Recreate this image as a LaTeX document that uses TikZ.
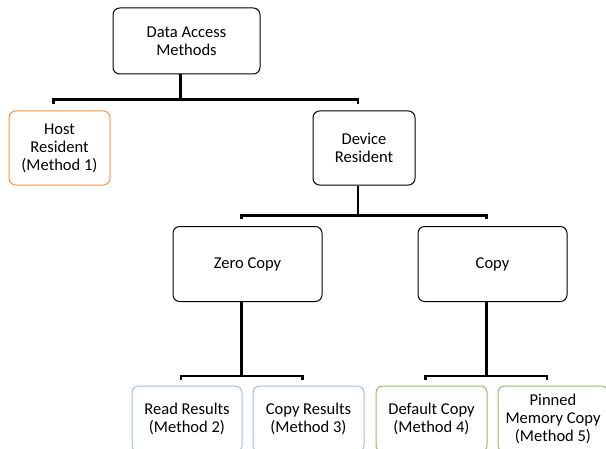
\documentclass[tikz,border=0pt]{standalone}
\usepackage{fontspec}
\setmainfont{Carlito}
\usepackage{tikz}
\definecolor{hostorange}{HTML}{F79646}
\definecolor{zeroblue}{HTML}{9DC3E6}
\definecolor{copygreen}{HTML}{8CC468}
\begin{document}
\begin{tikzpicture}[x=0.75pt,y=-0.75pt,
  box/.style={draw=black,rounded corners=5pt,line width=0.75pt,inner sep=0pt,
    align=center,font=\fontsize{12.4}{13.6}\selectfont,fill=white},
  link/.style={line width=2pt,black}]
\useasboundingbox (0,0) rectangle (606,449);
\clip (0,0) rectangle (606,449);
% tree boxes
\node [box,minimum width=110.25pt,minimum height=49.5pt] (access) at (186.5,41) {Data Access\\Methods};
\node [box,draw=hostorange,minimum width=75.75pt,minimum height=55.5pt] (host) at (59.5,148) {Host\\Resident\\(Method 1)};
\node [box,minimum width=76.5pt,minimum height=55.5pt] (device) at (364,148) {Device\\Resident};
\node [box,minimum width=111.75pt,minimum height=56.25pt] (zero) at (247.5,264) {Zero Copy};
\node [box,minimum width=111.75pt,minimum height=56.25pt] (copy) at (492.5,264) {Copy};
\node [box,draw=zeroblue,minimum width=82.5pt,minimum height=49.5pt] (read) at (187,419) {Read Results\\(Method 2)};
\node [box,draw=zeroblue,minimum width=83.25pt,minimum height=49.5pt] (copyres) at (308.5,419) {Copy Results\\(Method 3)};
\node [box,draw=copygreen,minimum width=83.25pt,minimum height=49.5pt] (default) at (431.5,419) {Default Copy\\(Method 4)};
\node [box,draw=copygreen,minimum width=82.5pt,minimum height=49.5pt] (pinned) at (553,419) {Pinned\\Memory Copy\\(Method 5)};
% connectors
\draw [link] ([xshift=-4.5pt]access.south) -- ++(0,25) coordinate (bar1);
\draw [link] ([shift={(-4.5pt,4.5pt)}]host.north) |- (bar1) -| ([shift={(-4.5pt,4.5pt)}]device.north);
\draw [link] ([xshift=-4.5pt]device.south) -- ++(0,30) coordinate (bar2);
\draw [link] ([shift={(-4.5pt,5pt)}]zero.north) |- (bar2) -| ([shift={(-4.5pt,5pt)}]copy.north);
\draw [link] ([xshift=-4.5pt]zero.south) -- ++(0,74) coordinate (bar3);
\draw [link] ([shift={(-4.5pt,4.5pt)}]read.north) |- (bar3) -| ([shift={(-4.5pt,4.5pt)}]copyres.north);
\draw [link] ([xshift=-4.5pt]copy.south) -- ++(0,74) coordinate (bar4);
\draw [link] ([shift={(-4.5pt,4.5pt)}]default.north) |- (bar4) -| ([shift={(-4.5pt,4.5pt)}]pinned.north);
\end{tikzpicture}
\end{document}
